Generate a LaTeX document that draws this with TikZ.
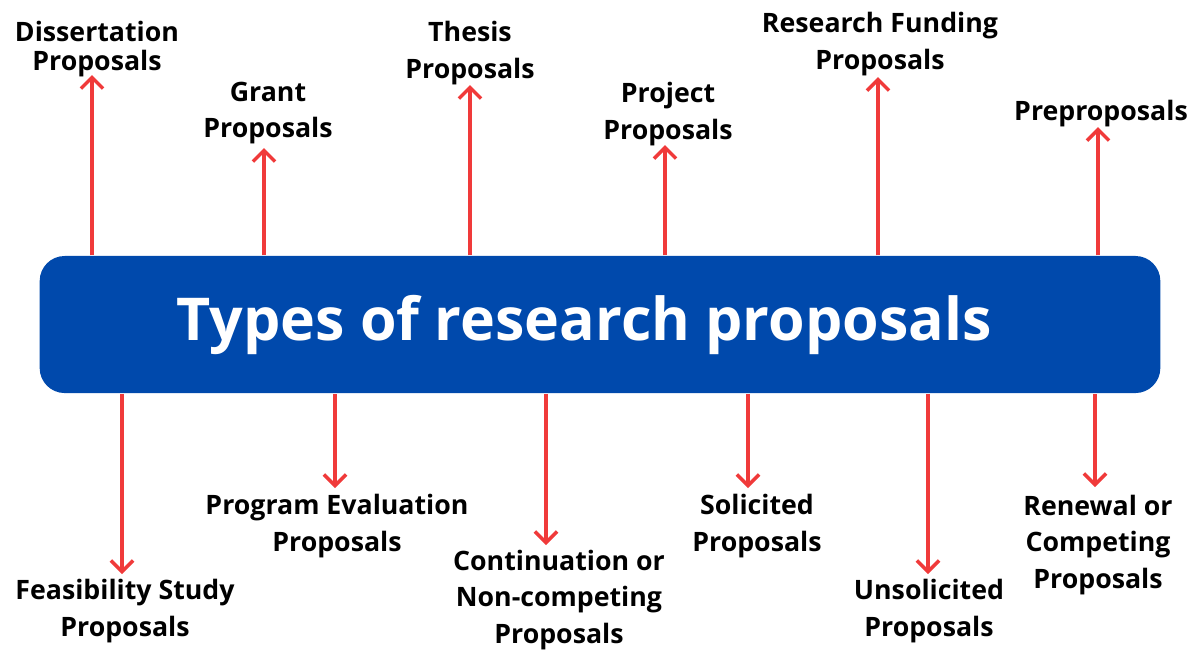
\documentclass[tikz,border=0pt]{standalone}
\usepackage{fontspec}
\setmainfont{Open Sans}
\usetikzlibrary{arrows.meta}
\tikzset{>={Straight Barb[scale=.9]}}
\definecolor{boxblue}{RGB}{0,73,172}
\definecolor{arrred}{RGB}{240,58,58}
\tikzset{
  kind/.style={font=\bfseries\fontsize{7.6pt}{10.5pt}\selectfont, align=center, inner sep=0pt},
  arr/.style={->, arrred, line width=1pt},
}

\begin{document}
\begin{tikzpicture}[x=.01cm, y=-.01cm]
      \useasboundingbox (0,0) rectangle (1200,650);
      % main box
      \node[fill=boxblue, rounded corners=.25cm, minimum width=11.2cm, minimum height=1.37cm,
        inner sep=0pt] (box) at (600,324.5) {};
      \node[text=white, inner sep=0pt, font=\bfseries\fontsize{16.8pt}{20pt}\selectfont] (title)
        at (584,325) {Types of research proposals};
      % labels above
      \node[kind] (dis) at (97,49) {Dissertation\\[-2.3pt]Proposals};
      \node[kind] (gra) at (268,113) {Grant\\Proposals};
      \node[kind] (the) at (470,53) {Thesis\\Proposals};
      \node[kind] (pro) at (668,114) {Project\\Proposals};
      \node[kind] (fun) at (880,44) {Research Funding\\Proposals};
      \node[kind] (pre) at (1101,114) {Preproposals};
      % labels below
      \node[kind] (fea) at (125,611) {Feasibility Study\\Proposals};
      \node[kind] (eva) at (337,526) {Program Evaluation\\Proposals};
      \node[kind] (con) at (559,600) {Continuation or\\Non-competing\\Proposals};
      \node[kind] (sol) at (757,526) {Solicited\\Proposals};
      \node[kind] (uns) at (929,611) {Unsolicited\\Proposals};
      \node[kind] (ren) at (1098,545) {Renewal or\\Competing\\Proposals};
      % arrow tips
      \coordinate (t1) at (92,75);
      \coordinate (t2) at (264,148);
      \coordinate (t3) at (470,85);
      \coordinate (t4) at (665,145);
      \coordinate (t5) at (878,77);
      \coordinate (t6) at (1098,127);
      \coordinate (b1) at (122,574);
      \coordinate (b2) at (335,488);
      \coordinate (b3) at (546,545);
      \coordinate (b4) at (748,488);
      \coordinate (b5) at (928,574);
      \coordinate (b6) at (1095,487);
      % arrows
      \foreach \t in {t1,t2,t3,t4,t5,t6}
        \draw[arr] (\t |- box.north) -- (\t);
      \foreach \b in {b1,b2,b3,b4,b5,b6}
        \draw[arr] (\b |- box.south) -- (\b);
    \end{tikzpicture}
\end{document}
